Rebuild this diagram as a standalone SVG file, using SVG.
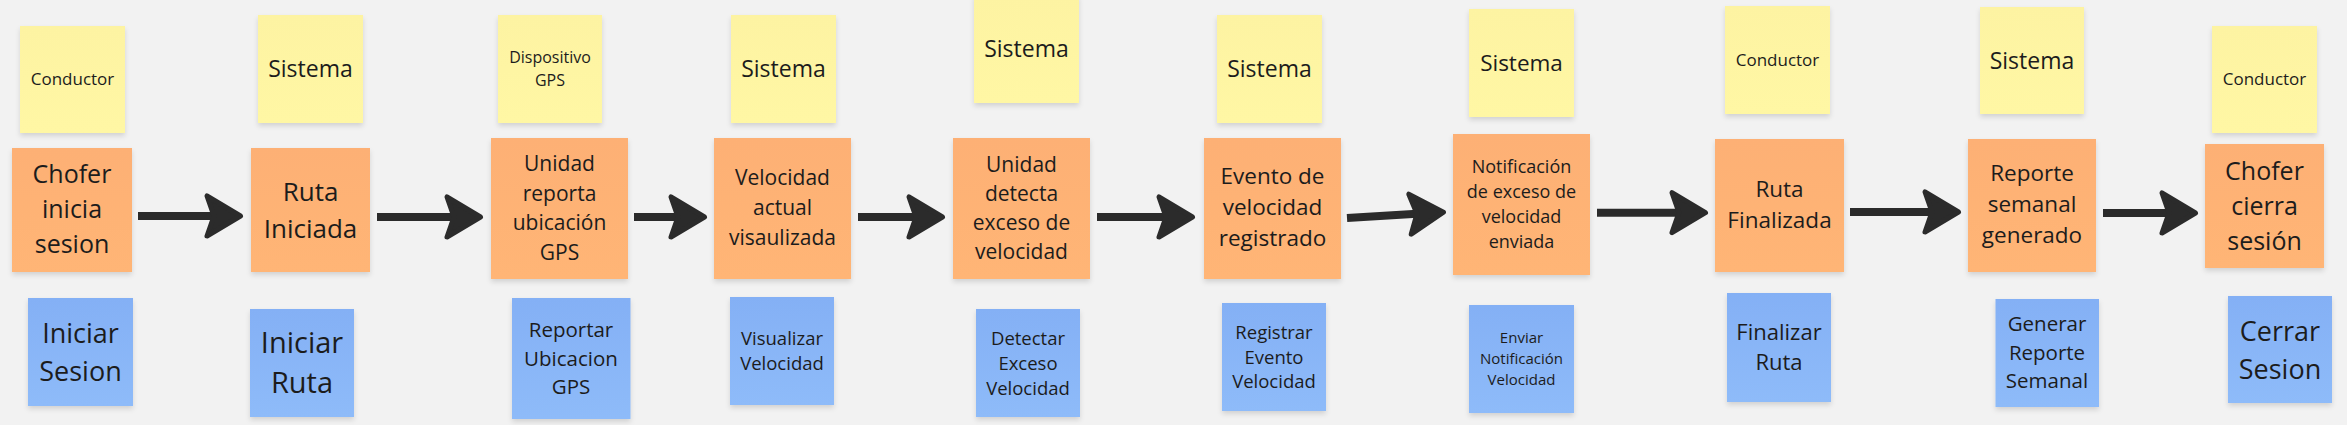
<svg xmlns="http://www.w3.org/2000/svg" width="2347" height="425" viewBox="0 0 2347 425">
<style>
text{font-family:"Open Sans","Noto Sans","Liberation Sans",sans-serif;fill:#1c1c1c;text-anchor:middle}
.y{fill:url(#gy);filter:url(#sh)}
.o{fill:url(#go);filter:url(#sh)}
.b{fill:url(#gb);filter:url(#sh)}
.c{fill:none;stroke:#2b2b2b;stroke-width:8;marker-end:url(#ah)}
</style>
<defs>
<linearGradient id="gy" x1="0" y1="0" x2="0" y2="1"><stop offset="0" stop-color="#fdf3a2"/><stop offset="1" stop-color="#fff7a4"/></linearGradient>
<linearGradient id="go" x1="0" y1="0" x2="0" y2="1"><stop offset="0" stop-color="#fdb074"/><stop offset="1" stop-color="#ffb576"/></linearGradient>
<linearGradient id="gb" x1="0" y1="0" x2="0" y2="1"><stop offset="0" stop-color="#84b0f5"/><stop offset="1" stop-color="#8ebbf9"/></linearGradient>
<filter id="sh" x="-10%" y="-10%" width="120%" height="125%"><feDropShadow dx="0" dy="3" stdDeviation="2.5" flood-color="#000" flood-opacity="0.13"/></filter>
<marker id="ah" viewBox="-42 -26 46 52" refX="-25" refY="0" markerWidth="46" markerHeight="52" markerUnits="userSpaceOnUse" orient="auto">
<path d="M-2.5,0 L-36,-20 L-29,0 L-36,20 Z" fill="#2b2b2b" stroke="#2b2b2b" stroke-width="5" stroke-linejoin="round"/>
</marker>
</defs>
<rect width="2347" height="425" fill="#f2f2f2"/>
<g id="connectors">
<path class="c" d="M138,216 L218,216"/>
<path class="c" d="M377,217 L458,217"/>
<path class="c" d="M634,217 L682,217"/>
<path class="c" d="M858,217 L920,217"/>
<path class="c" d="M1097,217 L1170,217"/>
<path class="c" d="M1347,218 L1421,213.5"/>
<path class="c" d="M1597,212.7 L1683,212.7"/>
<path class="c" d="M1850,212 L1936,212"/>
<path class="c" d="M2103,213 L2173,213"/>
</g>
<g id="actor1"><rect class="y" x="20" y="26" width="105" height="107"/><text x="72.5" y="85" font-size="17">Conductor</text></g>
<g id="event1"><rect class="o" x="12" y="148" width="120" height="124"/><text font-size="25"><tspan x="72" y="183">Chofer</tspan><tspan x="72" y="218">inicia</tspan><tspan x="72" y="253">sesion</tspan></text></g>
<g id="command1"><rect class="b" x="28" y="298" width="105" height="108"/><text font-size="27"><tspan x="80.5" y="342.5">Iniciar</tspan><tspan x="80.5" y="380.5">Sesion</tspan></text></g>

<g id="actor2"><rect class="y" x="258" y="15" width="105" height="108"/><text x="310.5" y="77" font-size="23">Sistema</text></g>
<g id="event2"><rect class="o" x="251" y="148" width="119" height="124"/><text font-size="26"><tspan x="310.5" y="200.5">Ruta</tspan><tspan x="310.5" y="237.5">Iniciada</tspan></text></g>
<g id="command2"><rect class="b" x="250" y="309" width="104" height="108"/><text font-size="29"><tspan x="302" y="353">Iniciar</tspan><tspan x="302" y="393">Ruta</tspan></text></g>

<g id="actor3"><rect class="y" x="498" y="15" width="104" height="108"/><text font-size="16"><tspan x="550" y="63">Dispositivo</tspan><tspan x="550" y="86">GPS</tspan></text></g>
<g id="event3"><rect class="o" x="491" y="138" width="137" height="141"/><text font-size="21"><tspan x="559.5" y="171">Unidad</tspan><tspan x="559.5" y="200.5">reporta</tspan><tspan x="559.5" y="230">ubicación</tspan><tspan x="559.5" y="259.5">GPS</tspan></text></g>
<g id="command3"><rect class="b" x="512" y="298" width="118.5" height="121"/><text font-size="20.5"><tspan x="571" y="337">Reportar</tspan><tspan x="571" y="365.5">Ubicacion</tspan><tspan x="571" y="394">GPS</tspan></text></g>

<g id="actor4"><rect class="y" x="731" y="15" width="105" height="108"/><text x="783.5" y="77" font-size="23">Sistema</text></g>
<g id="event4"><rect class="o" x="714" y="138" width="137" height="141"/><text font-size="21"><tspan x="782.5" y="185">Velocidad</tspan><tspan x="782.5" y="215">actual</tspan><tspan x="782.5" y="245">visaulizada</tspan></text></g>
<g id="command4"><rect class="b" x="730" y="297" width="104" height="108"/><text font-size="18.5"><tspan x="782" y="345">Visualizar</tspan><tspan x="782" y="369.5">Velocidad</tspan></text></g>

<g id="actor5"><rect class="y" x="974" y="-5" width="105" height="108"/><text x="1026.5" y="56.5" font-size="23">Sistema</text></g>
<g id="event5"><rect class="o" x="953" y="138" width="137" height="141"/><text font-size="21"><tspan x="1021.5" y="172">Unidad</tspan><tspan x="1021.5" y="201">detecta</tspan><tspan x="1021.5" y="230">exceso de</tspan><tspan x="1021.5" y="259">velocidad</tspan></text></g>
<g id="command5"><rect class="b" x="976" y="309" width="104" height="108"/><text font-size="18.5"><tspan x="1028" y="344.5">Detectar</tspan><tspan x="1028" y="369.5">Exceso</tspan><tspan x="1028" y="394.5">Velocidad</tspan></text></g>

<g id="actor6"><rect class="y" x="1217" y="15" width="105" height="108"/><text x="1269.5" y="77" font-size="23">Sistema</text></g>
<g id="event6"><rect class="o" x="1204" y="138" width="137" height="141"/><text font-size="22.5"><tspan x="1272.5" y="184.4">Evento de</tspan><tspan x="1272.5" y="215.4">velocidad</tspan><tspan x="1272.5" y="246.4">registrado</tspan></text></g>
<g id="command6"><rect class="b" x="1222" y="303" width="104" height="108"/><text font-size="18.5"><tspan x="1274" y="339">Registrar</tspan><tspan x="1274" y="363.5">Evento</tspan><tspan x="1274" y="388">Velocidad</tspan></text></g>

<g id="actor7"><rect class="y" x="1469" y="9" width="105" height="108"/><text x="1521.5" y="71" font-size="22.5">Sistema</text></g>
<g id="event7"><rect class="o" x="1453" y="134" width="137" height="141"/><text font-size="18"><tspan x="1521.5" y="172.8">Notificación</tspan><tspan x="1521.5" y="197.8">de exceso de</tspan><tspan x="1521.5" y="222.8">velocidad</tspan><tspan x="1521.5" y="247.8">enviada</tspan></text></g>
<g id="command7"><rect class="b" x="1469" y="305" width="105" height="108"/><text font-size="15"><tspan x="1521.5" y="342.8">Enviar</tspan><tspan x="1521.5" y="363.8">Notificación</tspan><tspan x="1521.5" y="384.8">Velocidad</tspan></text></g>

<g id="actor8"><rect class="y" x="1725" y="6" width="105" height="108"/><text x="1777.5" y="66" font-size="17">Conductor</text></g>
<g id="event8"><rect class="o" x="1715" y="139" width="129" height="133"/><text font-size="22.5"><tspan x="1779.5" y="196.5">Ruta</tspan><tspan x="1779.5" y="227.5">Finalizada</tspan></text></g>
<g id="command8"><rect class="b" x="1727" y="293" width="104" height="109"/><text font-size="22"><tspan x="1779" y="339.7">Finalizar</tspan><tspan x="1779" y="369.7">Ruta</tspan></text></g>

<g id="actor9"><rect class="y" x="1980" y="7" width="104" height="107"/><text x="2032" y="68.5" font-size="23">Sistema</text></g>
<g id="event9"><rect class="o" x="1968" y="139" width="128" height="133"/><text font-size="22.5"><tspan x="2032" y="181.4">Reporte</tspan><tspan x="2032" y="212.4">semanal</tspan><tspan x="2032" y="243.4">generado</tspan></text></g>
<g id="command9"><rect class="b" x="1995.5" y="299" width="103.5" height="108"/><text font-size="20.5"><tspan x="2047" y="331.4">Generar</tspan><tspan x="2047" y="359.7">Reporte</tspan><tspan x="2047" y="388">Semanal</tspan></text></g>

<g id="actor10"><rect class="y" x="2212" y="26" width="105" height="107"/><text x="2264.5" y="85" font-size="17">Conductor</text></g>
<g id="event10"><rect class="o" x="2205" y="144" width="119" height="124"/><text font-size="25"><tspan x="2264.5" y="179.8">Chofer</tspan><tspan x="2264.5" y="214.8">cierra</tspan><tspan x="2264.5" y="249.8">sesión</tspan></text></g>
<g id="command10"><rect class="b" x="2228" y="296" width="104" height="107"/><text font-size="27"><tspan x="2280" y="340.5">Cerrar</tspan><tspan x="2280" y="378.5">Sesion</tspan></text></g>
</svg>
